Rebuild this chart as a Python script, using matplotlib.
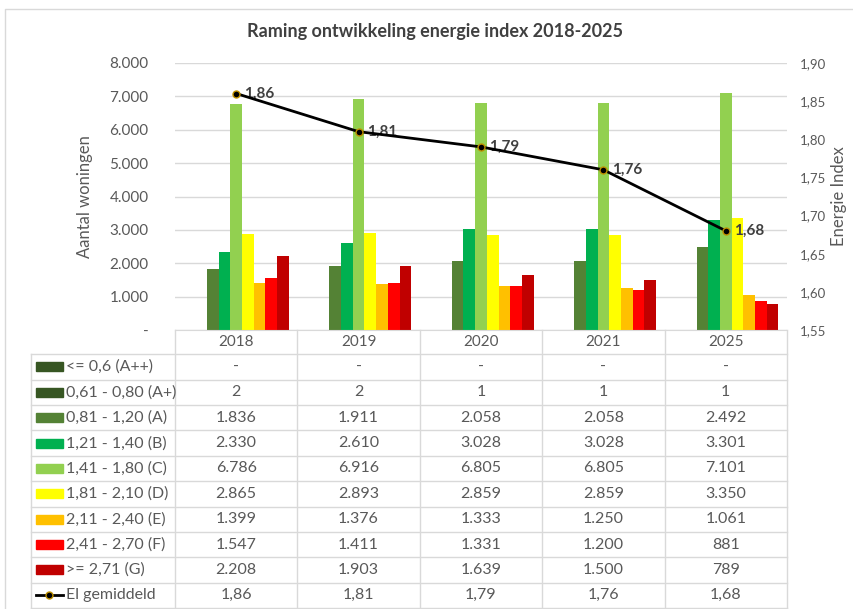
import matplotlib.pyplot as plt
import numpy as np

plt.rcParams['font.family'] = ['Lato', 'DejaVu Sans']

years = ['2018', '2019', '2020', '2021', '2025']
labels = ['<= 0,6 (A++)', '0,61 - 0,80 (A+)', '0,81 - 1,20 (A)', '1,21 - 1,40 (B)',
          '1,41 - 1,80 (C)', '1,81 - 2,10 (D)', '2,11 - 2,40 (E)', '2,41 - 2,70 (F)',
          '>= 2,71 (G)']
colors = ['#375623', '#375623', '#548235', '#00B050', '#92D050', '#FFFF00',
          '#FFC000', '#FF0000', '#C00000']
a_pp = [0, 0, 0, 0, 0]
a_p = [2, 2, 1, 1, 1]
a = [1836, 1911, 2058, 2058, 2492]
b = [2330, 2610, 3028, 3028, 3301]
c = [6786, 6916, 6805, 6805, 7101]
d = [2865, 2893, 2859, 2859, 3350]
e = [1399, 1376, 1333, 1250, 1061]
f = [1547, 1411, 1331, 1200, 881]
g = [2208, 1903, 1639, 1500, 789]
series = [a_pp, a_p, a, b, c, d, e, f, g]
ei = [1.86, 1.81, 1.79, 1.76, 1.68]
line_label = 'El gemiddeld'

W, H = 854, 609
fig = plt.figure(figsize=(W / 100, H / 100), dpi=100)
gray = '#595959'
grid = '#D9D9D9'

# chart border
fig.add_artist(plt.Line2D([5 / W, 5 / W, 1], [0, 1 - 9 / H, 1 - 9 / H],
                          color=grid, lw=1, transform=fig.transFigure))

L, R, T, B = 175, 787, 63, 330
ax = fig.add_axes([L / W, 1 - B / H, (R - L) / W, (B - T) / H])
x = np.arange(len(years))
n = len(series)
bw = 0.86 / n
for i, s in enumerate(series):
    ax.bar(x + (i - (n - 1) / 2) * bw, s, bw, color=colors[i], zorder=2)
ax.set_xlim(-0.5, len(years) - 0.5)
ax.set_ylim(0, 8000)
ax.set_yticks(np.arange(0, 8001, 1000))
ax.set_yticklabels(['-'] + [f'{v:,}'.replace(',', '.') for v in range(1000, 8001, 1000)])
ax.set_xticks([])
ax.grid(axis='y', color=grid, lw=1, zorder=0)
for sp in ['top', 'right', 'left']:
    ax.spines[sp].set_visible(False)
ax.spines['bottom'].set_color(grid)
ax.tick_params(axis='y', length=0, colors=gray, labelsize=11, pad=19)
ax.set_ylabel('Aantal woningen', color=gray, fontsize=12, labelpad=12)

ax2 = ax.twinx()
ax2.plot(x, ei, color='black', lw=2, marker='o', ms=5, mfc='black', mec='#BF9000', mew=1, zorder=5)
for xi, v in zip(x, ei):
    ax2.annotate(f'{v:.2f}'.replace('.', ','), (xi, v), xytext=(6, 0), textcoords='offset points',
                 va='center', ha='left', fontsize=11, fontweight='bold', color='#404040')
ax2.set_ylim(1.55, 1.90)
ax2.set_yticks(np.arange(1.55, 1.901, 0.05))
ax2.set_yticklabels([f'{v:.2f}'.replace('.', ',') for v in np.arange(1.55, 1.901, 0.05)])
for sp in ax2.spines.values():
    sp.set_visible(False)
ax2.tick_params(axis='y', length=0, colors=gray, labelsize=9.5, pad=9)
ax2.set_ylabel('Energie Index', color=gray, fontsize=12, labelpad=4)

fig.text(435 / W, 1 - 32 / H, 'Raming ontwikkeling energie index 2018-2025',
         ha='center', va='center', fontsize=13, fontweight='bold', color='#404040')

# data table
tb = fig.add_axes([0, 0, 1, 1])
tb.set_xlim(0, W)
tb.set_ylim(H, 0)
tb.axis('off')
colw = (R - L) / len(years)
hdr_bot = 354.3
rh = 25.37
nrows = n + 1
tbot = hdr_bot + nrows * rh
lkw = dict(color=grid, lw=1)
for k in range(len(years) + 1):
    tb.plot([L + k * colw] * 2, [B, tbot], **lkw)
tb.plot([31, 31], [hdr_bot, tbot], **lkw)
for r in range(nrows + 1):
    tb.plot([31, R], [hdr_bot + r * rh] * 2, **lkw)
for j, yr in enumerate(years):
    tb.text(L + (j + 0.5) * colw, (B + hdr_bot) / 2, yr, ha='center', va='center',
            fontsize=11, color=gray)


def fmt(v):
    if v == 0:
        return '-'
    return f'{v:,}'.replace(',', '.')


fs = 11.5
for r in range(n):
    yc = hdr_bot + (r + 0.5) * rh
    tb.add_patch(plt.Rectangle((36, yc - 4.5), 27, 9, color=colors[r]))
    tb.text(66, yc, labels[r], ha='left', va='center', fontsize=fs, color=gray)
    for j in range(len(years)):
        tb.text(L + (j + 0.5) * colw, yc, fmt(series[r][j]), ha='center', va='center',
                fontsize=fs, color=gray)
yc = hdr_bot + (n + 0.5) * rh
tb.plot([36, 63], [yc, yc], color='black', lw=2)
tb.plot([49.5], [yc], marker='o', ms=5, mfc='black', mec='#BF9000', mew=1)
tb.text(66, yc, line_label, ha='left', va='center', fontsize=fs, color=gray)
for j, v in enumerate(ei):
    tb.text(L + (j + 0.5) * colw, yc, f'{v:.2f}'.replace('.', ','), ha='center', va='center',
            fontsize=fs, color=gray)

fig.savefig('out.png', dpi=100)
